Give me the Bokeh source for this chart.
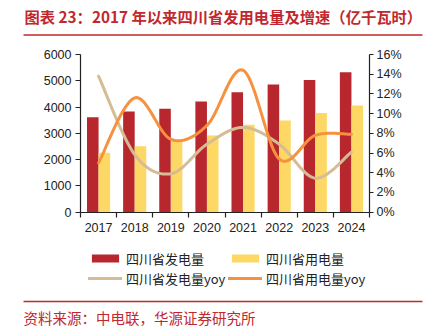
from bokeh.plotting import figure
from bokeh.models import (Range1d, LinearAxis, FixedTicker, PrintfTickFormatter,
                          Legend, LegendItem, Label, BoxAnnotation, ColumnDataSource)
from bokeh.embed import file_html
from bokeh.resources import INLINE

years = ["2017", "2018", "2019", "2020", "2021", "2022", "2023", "2024"]
generation = [3610, 3830, 3940, 4210, 4560, 4860, 5030, 5320]
consumption = [2260, 2510, 2720, 2920, 3330, 3490, 3770, 4060]
gen_yoy = [13.8, 5.85, 3.9, 6.9, 8.6, 6.9, 3.45, 6.1]
cons_yoy = [5.0, 11.6, 7.4, 8.8, 14.4, 5.4, 7.8, 7.9]
left_ticks = [0, 1000, 2000, 3000, 4000, 5000, 6000]
right_ticks = [0, 2, 4, 6, 8, 10, 12, 14, 16]

title_text = "图表 23：2017 年以来四川省发用电量及增速（亿千瓦时）"
source_text = "资料来源：中电联，华源证券研究所"

RED = "#B8272E"
YELLOW = "#FDD865"
TAN = "#D6BC95"
ORANGE = "#F6913E"
TITLE_RED = "#C0282D"
FONT = "Liberation Sans"
CJK = "Noto Sans CJK SC"

W, H = 429, 329
# plot-area placement inside the canvas (pixels)
PL, PR, PT, PB = 80.0, 369.0, 54.0, 211.7

xc = [i + 0.5 for i in range(len(years))]
ncat = len(years)
ymax_l, ymax_r = left_ticks[-1], right_ticks[-1]


def span_range(lo_v, hi_v, lo_px, hi_px, total):
    """Range whose [lo_v, hi_v] maps onto pixels [lo_px, hi_px] of a canvas axis of size total."""
    per = (hi_v - lo_v) / (hi_px - lo_px)
    return Range1d(lo_v - lo_px * per, hi_v + (total - hi_px) * per)


def smooth(xs, ys, n=24):
    """Smoothed (Catmull-Rom style Bezier) display path through the data points."""
    px, py = [], []
    m = len(xs)
    for i in range(m - 1):
        x0, y0 = (xs[i - 1], ys[i - 1]) if i > 0 else (xs[i], ys[i])
        x1, y1 = xs[i], ys[i]
        x2, y2 = xs[i + 1], ys[i + 1]
        x3, y3 = (xs[i + 2], ys[i + 2]) if i + 2 < m else (xs[i + 1], ys[i + 1])
        c1x, c1y = x1 + (x2 - x0) / 6, y1 + (y2 - y0) / 6
        c2x, c2y = x2 - (x3 - x1) / 6, y2 - (y3 - y1) / 6
        for k in range(n + (1 if i == m - 2 else 0)):
            t = k / n
            a, b, c, d = (1 - t) ** 3, 3 * (1 - t) ** 2 * t, 3 * (1 - t) * t ** 2, t ** 3
            px.append(a * x1 + b * c1x + c * c2x + d * x2)
            py.append(a * y1 + b * c1y + c * c2y + d * y2)
    return px, py


p = figure(width=W, height=H, output_backend="svg", toolbar_location=None,
           x_range=span_range(0, ncat, PL, PR, W),
           y_range=span_range(0, ymax_l, H - PB, H - PT, H),
           min_border=0, min_border_left=0, min_border_right=0,
           min_border_top=0, min_border_bottom=0,
           x_axis_type=None, y_axis_type=None)
p.outline_line_color = None
p.grid.visible = False
p.extra_y_ranges = {"pct": span_range(0, ymax_r, H - PB, H - PT, H)}

bar_src = ColumnDataSource(dict(
    xg=[x - 0.16 for x in xc], xcns=[x + 0.16 for x in xc],
    gen=generation, cons=consumption))
r_gen = p.vbar(x="xg", top="gen", width=0.32, source=bar_src, fill_color=RED, line_color=None)
r_cons = p.vbar(x="xcns", top="cons", width=0.32, source=bar_src, fill_color=YELLOW, line_color=None)

gx, gy = smooth(xc, gen_yoy)
cx, cy = smooth(xc, cons_yoy)
r_gy = p.line(gx, gy, y_range_name="pct", line_color=TAN, line_width=3, line_cap="round")
r_cy = p.line(cx, cy, y_range_name="pct", line_color=ORANGE, line_width=3, line_cap="round")


def style_axis(ax):
    ax.axis_line_color = "#222222"
    ax.axis_line_width = 1.2
    ax.major_tick_line_color = "#222222"
    ax.major_tick_line_width = 1.2
    ax.major_label_text_font = FONT
    ax.major_label_text_font_size = "12.5px"
    ax.major_label_text_color = "#222222"


xa = LinearAxis(ticker=FixedTicker(ticks=xc, minor_ticks=list(range(ncat + 1))),
                major_label_overrides={x: y for x, y in zip(xc, years)},
                fixed_location=0, bounds=(0, ncat))
style_axis(xa)
xa.major_tick_line_color = None
xa.minor_tick_line_color = "#222222"
xa.minor_tick_line_width = 1.2
xa.minor_tick_in = 0
xa.minor_tick_out = 5
xa.major_label_standoff = 5
p.add_layout(xa, "below")

ya = LinearAxis(ticker=FixedTicker(ticks=left_ticks, minor_ticks=[]),
                fixed_location=0, bounds=(0, ymax_l))
style_axis(ya)
ya.major_tick_in = 0
ya.major_tick_out = 5
ya.major_label_standoff = 4
p.add_layout(ya, "left")

yr = LinearAxis(y_range_name="pct", ticker=FixedTicker(ticks=right_ticks, minor_ticks=[]),
                formatter=PrintfTickFormatter(format="%d%%"),
                fixed_location=ncat, bounds=(0, ymax_r))
style_axis(yr)
yr.major_tick_in = 0
yr.major_tick_out = 4
yr.major_label_standoff = 3
p.add_layout(yr, "right")


def make_legend(items, x):
    lg = Legend(items=items, location=(x, H - 288), orientation="vertical",
                glyph_width=34, glyph_height=10, label_height=20, label_standoff=4,
                spacing=0, padding=0, margin=0,
                label_text_font=CJK, label_text_font_size="13px", label_text_color="#222222",
                border_line_alpha=0, background_fill_alpha=0)
    p.add_layout(lg, "center")


make_legend([LegendItem(label="四川省发电量", renderers=[r_gen]),
             LegendItem(label="四川省发电量yoy", renderers=[r_gy])], 88)
make_legend([LegendItem(label="四川省用电量", renderers=[r_cons]),
             LegendItem(label="四川省用电量yoy", renderers=[r_cy])], 228)

p.add_layout(Label(x=24, y=H - 15, x_units="screen", y_units="screen",
                   text=title_text, text_font=CJK, text_font_size="15.3px",
                   text_font_style="bold", text_color=TITLE_RED, text_baseline="middle"))
p.add_layout(Label(x=23, y=H - 317, x_units="screen", y_units="screen",
                   text=source_text, text_font=CJK, text_font_size="14.5px",
                   text_color=TITLE_RED, text_baseline="middle"))
for yy in (34.5, 301):
    p.add_layout(BoxAnnotation(left=23, right=422, bottom=H - yy - 0.7, top=H - yy + 0.7,
                               left_units="screen", right_units="screen",
                               bottom_units="screen", top_units="screen",
                               fill_color=TITLE_RED, fill_alpha=1, line_color=None))

open("out.html", "w").write(file_html(p, INLINE))
